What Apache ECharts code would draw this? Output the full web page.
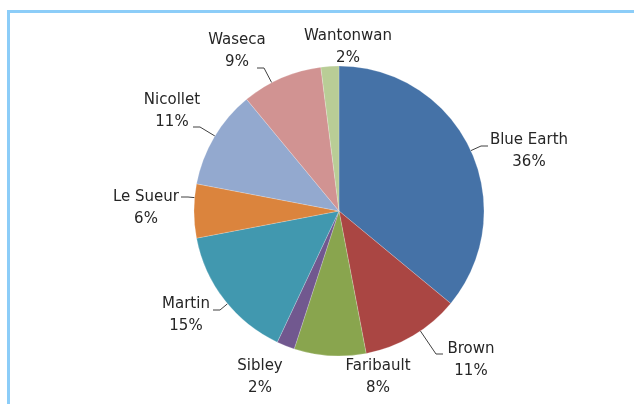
<!DOCTYPE html>
<html>
<head>
<meta charset="utf-8">
<script src="https://cdn.jsdelivr.net/npm/echarts@6/dist/echarts.min.js"></script>
<style>
  html, body { margin: 0; padding: 0; background: #fff; }
  #wrap { position: relative; width: 634px; height: 404px; overflow: hidden; }
  #frame { position: absolute; left: 7px; top: 10px; width: 700px; height: 500px;
           border-top: 3px solid #8ccdf8; border-left: 3px solid #8ccdf8; }
  #chart { position: absolute; left: 0; top: 0; width: 634px; height: 404px; }
</style>
</head>
<body>
<div id="wrap">
  <div id="frame"></div>
  <div id="chart"></div>
</div>
<script>
// counties and their share (%)
var counties = ['Blue Earth', 'Brown', 'Faribault', 'Sibley', 'Martin', 'Le Sueur', 'Nicollet', 'Waseca', 'Wantonwan'];
var shares = [36, 11, 8, 2, 15, 6, 11, 9, 2];
var colors = ['#4572a7', '#aa4643', '#89a54e', '#71588f', '#4198af', '#db843d', '#93a9cf', '#d19392', '#b9cd96'];

// layout: pie geometry, label block centres, leader line ends (null = no leader)
var cx = 339, cy = 211, R = 145;
var labelSpots = [[529, 151], [471, 360], [378, 377], [260, 377], [186, 315], [146, 208], [172, 111], [237, 51], [348, 47]];
var leaderEnd = [[488, 146], [443, 354], null, null, [213, 310], [181, 197], [193, 127], [257, 68], null];

// slice angle ranges (deg, clockwise from 12 o'clock)
var total = 0, slices = [];
for (var i = 0; i < shares.length; i++) total += shares[i];
var acc = 0;
for (var i = 0; i < shares.length; i++) {
    slices.push([acc / total * 360, (acc + shares[i]) / total * 360]);
    acc += shares[i];
}

function edgePoint(idx, px, py) {
    var a = Math.atan2(px - cx, -(py - cy)) * 180 / Math.PI;
    if (a < 0) a += 360;
    a = Math.min(Math.max(a, slices[idx][0] + 1), slices[idx][1] - 1);
    var rad = a * Math.PI / 180;
    return [cx + R * Math.sin(rad), cy - R * Math.cos(rad)];
}

var myChart = echarts.init(document.getElementById('chart'));

var pieData = [];
for (var i = 0; i < counties.length; i++) {
    pieData.push({
        name: counties[i],
        value: shares[i],
        itemStyle: { color: colors[i] },
        labelLine: { show: leaderEnd[i] !== null }
    });
}

var option = {
    animation: false,
    series: [
        {
            type: 'pie',
            center: [cx, cy],
            radius: R,
            startAngle: 90,
            clockwise: true,
            avoidLabelOverlap: false,
            data: pieData,
            itemStyle: { borderColor: 'rgba(255,255,255,0.4)', borderWidth: 0.5 },
            label: {
                show: true,
                position: 'outside',
                formatter: '{b}\n{c}%',
                fontFamily: 'DejaVu Sans',
                fontSize: 15,
                lineHeight: 22,
                color: '#262626'
            },
            labelLine: {
                show: true,
                length: 10,
                length2: 6,
                lineStyle: { color: '#404040', width: 1 }
            },
            labelLayout: function (p) {
                var i = p.dataIndex;
                var res = {
                    x: labelSpots[i][0],
                    y: labelSpots[i][1],
                    align: 'center',
                    verticalAlign: 'middle'
                };
                var end = leaderEnd[i];
                if (end) {
                    var elbowX = end[0] + (end[0] > cx ? -7 : 7);
                    var start = edgePoint(i, elbowX, end[1]);
                    res.labelLinePoints = [start, [elbowX, end[1]], end];
                }
                return res;
            }
        }
    ]
};
myChart.setOption(option);
</script>
</body>
</html>
